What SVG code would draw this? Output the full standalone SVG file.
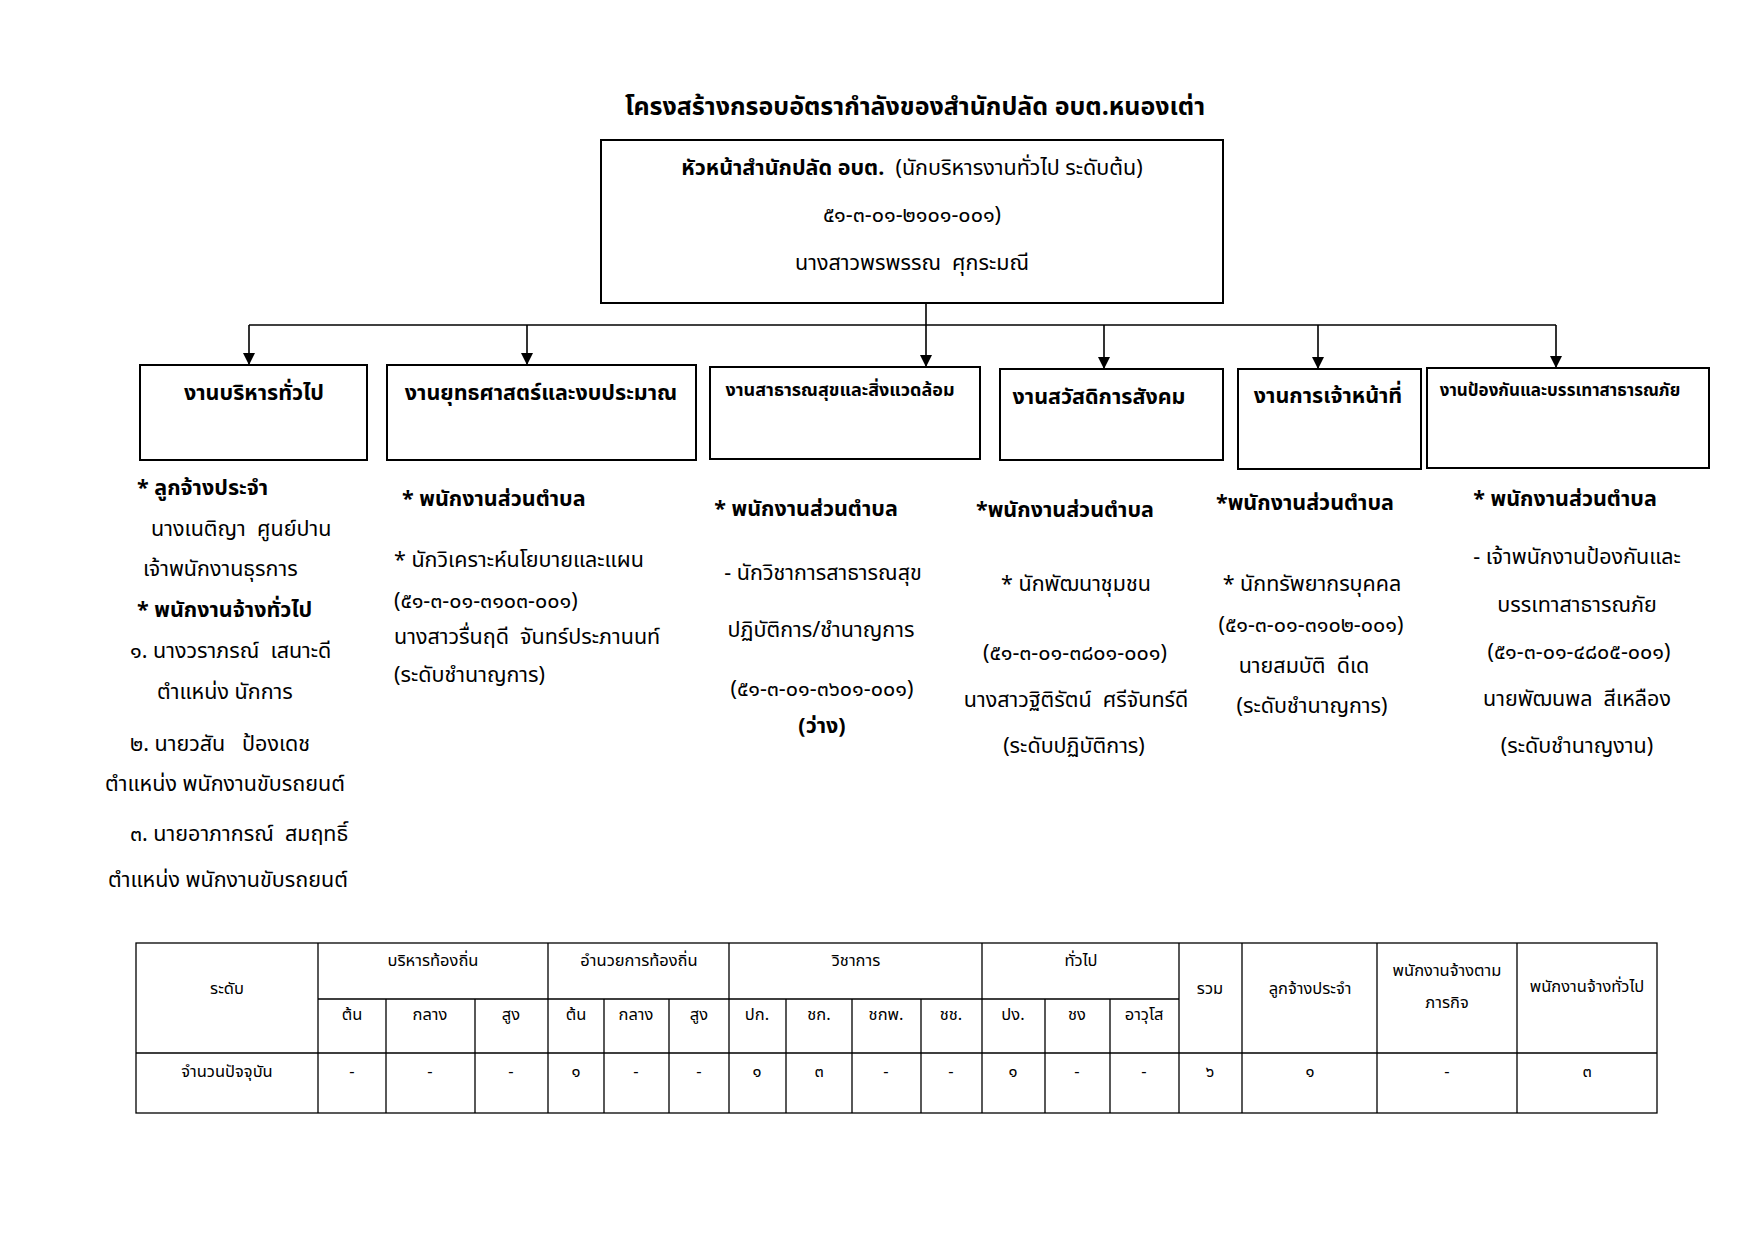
<svg xmlns="http://www.w3.org/2000/svg" width="1754" height="1240" viewBox="0 0 1754 1240">
<style>
text{font-family:"Noto Sans Thai","Noto Sans Thai UI","Loma","Garuda","Tlwg Typo","Noto Sans","DejaVu Sans",sans-serif;fill:#000;font-size:21.5px;white-space:pre}
.t{font-size:25px;font-weight:bold;text-anchor:middle}
.b{font-weight:bold}
.m{text-anchor:middle}
.box{fill:#fff;stroke:#000;stroke-width:2}
.ln{fill:none;stroke:#000;stroke-width:1.6}
.tb{font-size:16.5px;text-anchor:middle}
.grid{fill:none;stroke:#000;stroke-width:1.3}
.sm{font-size:18px}
</style>
<defs>
<marker id="ar" markerWidth="12" markerHeight="14" viewBox="0 0 12 14" refX="12" refY="7" orient="auto" markerUnits="userSpaceOnUse">
<path d="M0,1 L12,7 L0,13 z" fill="#000"/>
</marker>
</defs>
<rect width="1754" height="1240" fill="#fff"/>
<text class="t" x="915" y="115">โครงสร้างกรอบอัตรากำลังของสำนักปลัด อบต.หนองเต่า</text>

<g id="head">
<rect class="box" x="601" y="140" width="622" height="163"/>
<text class="m" x="912" y="175"><tspan class="b">หัวหน้าสำนักปลัด อบต.</tspan>  (นักบริหารงานทั่วไป ระดับต้น)</text>
<text class="m" x="912" y="222">๕๑-๓-๐๑-๒๑๐๑-๐๐๑)</text>
<text class="m" x="912" y="270">นางสาวพรพรรณ  ศุกระมณี</text>
</g>

<g id="connectors">
<line class="ln" x1="926" y1="303" x2="926" y2="367" marker-end="url(#ar)"/>
<line class="ln" x1="249" y1="325" x2="1556" y2="325"/>
<line class="ln" x1="249" y1="325" x2="249" y2="365" marker-end="url(#ar)"/>
<line class="ln" x1="527" y1="325" x2="527" y2="365" marker-end="url(#ar)"/>
<line class="ln" x1="1104" y1="325" x2="1104" y2="369" marker-end="url(#ar)"/>
<line class="ln" x1="1318" y1="325" x2="1318" y2="369" marker-end="url(#ar)"/>
<line class="ln" x1="1556" y1="325" x2="1556" y2="368" marker-end="url(#ar)"/>
</g>

<g id="n1">
<rect class="box" x="140" y="365" width="227" height="95"/>
<text class="m b" x="254" y="400">งานบริหารทั่วไป</text>
</g>
<g id="n2">
<rect class="box" x="387" y="365" width="309" height="95"/>
<text class="m b" x="541" y="400">งานยุทธศาสตร์และงบประมาณ</text>
</g>
<g id="n3">
<rect class="box" x="710" y="367" width="270" height="92"/>
<text class="m b sm" x="840" y="396">งานสาธารณสุขและสิ่งแวดล้อม</text>
</g>
<g id="n4">
<rect class="box" x="1000" y="369" width="223" height="91"/>
<text class="m b" x="1099" y="404">งานสวัสดิการสังคม</text>
</g>
<g id="n5">
<rect class="box" x="1238" y="369" width="183" height="100"/>
<text class="m b" x="1328" y="403">งานการเจ้าหน้าที่</text>
</g>
<g id="n6">
<rect class="box" x="1427" y="368" width="282" height="100"/>
<text class="m b" x="1560" y="396" style="font-size:17px">งานป้องกันและบรรเทาสาธารณภัย</text>
</g>

<g id="c1">
<text class="b" x="137" y="495">* ลูกจ้างประจำ</text>
<text x="151" y="536">นางเนติญา  ศูนย์ปาน</text>
<text x="143" y="576">เจ้าพนักงานธุรการ</text>
<text class="b" x="137" y="617">* พนักงานจ้างทั่วไป</text>
<text x="130" y="658">๑. นางวราภรณ์  เสนาะดี</text>
<text x="157" y="699">ตำแหน่ง นักการ</text>
<text x="130" y="751">๒. นายวสัน   ป้องเดช</text>
<text x="105" y="791">ตำแหน่ง พนักงานขับรถยนต์</text>
<text x="130" y="841">๓. นายอาภากรณ์  สมฤทธิ์</text>
<text x="108" y="887">ตำแหน่ง พนักงานขับรถยนต์</text>
</g>
<g id="c2">
<text class="b" x="402" y="506">* พนักงานส่วนตำบล</text>
<text x="394" y="567">* นักวิเคราะห์นโยบายและแผน</text>
<text x="394" y="608">(๕๑-๓-๐๑-๓๑๐๓-๐๐๑)</text>
<text x="394" y="644">นางสาวรื่นฤดี  จันทร์ประภานนท์</text>
<text x="394" y="682">(ระดับชำนาญการ)</text>
</g>
<g id="c3">
<text class="m b" x="806" y="516">* พนักงานส่วนตำบล</text>
<text class="m" x="823" y="580">- นักวิชาการสาธารณสุข</text>
<text class="m" x="821" y="637">ปฏิบัติการ/ชำนาญการ</text>
<text class="m" x="822" y="696">(๕๑-๓-๐๑-๓๖๐๑-๐๐๑)</text>
<text class="m b" x="822" y="733">(ว่าง)</text>
</g>
<g id="c4">
<text class="m b" x="1065" y="517">*พนักงานส่วนตำบล</text>
<text class="m" x="1076" y="591">* นักพัฒนาชุมชน</text>
<text class="m" x="1075" y="660">(๕๑-๓-๐๑-๓๘๐๑-๐๐๑)</text>
<text class="m" x="1076" y="707">นางสาวฐิติรัตน์  ศรีจันทร์ดี</text>
<text class="m" x="1074" y="753">(ระดับปฏิบัติการ)</text>
</g>
<g id="c5">
<text class="m b" x="1305" y="510">*พนักงานส่วนตำบล</text>
<text class="m" x="1312" y="591">* นักทรัพยากรบุคคล</text>
<text class="m" x="1311" y="632">(๕๑-๓-๐๑-๓๑๐๒-๐๐๑)</text>
<text class="m" x="1304" y="673">นายสมบัติ  ดีเด</text>
<text class="m" x="1312" y="713">(ระดับชำนาญการ)</text>
</g>
<g id="c6">
<text class="m b" x="1565" y="506">* พนักงานส่วนตำบล</text>
<text class="m" x="1577" y="564">- เจ้าพนักงานป้องกันและ</text>
<text class="m" x="1577" y="612">บรรเทาสาธารณภัย</text>
<text class="m" x="1579" y="659">(๕๑-๓-๐๑-๔๘๐๕-๐๐๑)</text>
<text class="m" x="1577" y="706">นายพัฒนพล  สีเหลือง</text>
<text class="m" x="1577" y="753">(ระดับชำนาญงาน)</text>
</g>

<g id="table">
<rect class="grid" x="136" y="943" width="1521" height="170"/>
<path class="grid" d="M318,999 H1179 M136,1053 H1657 M318,943 V1113 M386,999 V1113 M475,999 V1113 M548,943 V1113 M604,999 V1113 M669,999 V1113 M729,943 V1113 M786,999 V1113 M852,999 V1113 M921,999 V1113 M982,943 V1113 M1045,999 V1113 M1110,999 V1113 M1179,943 V1113 M1242,943 V1113 M1377,943 V1113 M1517,943 V1113"/>
<text class="tb" x="227" y="994">ระดับ</text>
<text class="tb" x="433" y="966">บริหารท้องถิ่น</text>
<text class="tb" x="639" y="966">อำนวยการท้องถิ่น</text>
<text class="tb" x="856" y="966">วิชาการ</text>
<text class="tb" x="1081" y="966">ทั่วไป</text>
<text class="tb" x="1210" y="994">รวม</text>
<text class="tb" x="1310" y="994">ลูกจ้างประจำ</text>
<text class="tb" x="1447" y="976">พนักงานจ้างตาม</text>
<text class="tb" x="1447" y="1008">ภารกิจ</text>
<text class="tb" x="1587" y="992">พนักงานจ้างทั่วไป</text>
<text class="tb" x="352" y="1020">ต้น</text>
<text class="tb" x="430" y="1020">กลาง</text>
<text class="tb" x="511" y="1020">สูง</text>
<text class="tb" x="576" y="1020">ต้น</text>
<text class="tb" x="636" y="1020">กลาง</text>
<text class="tb" x="699" y="1020">สูง</text>
<text class="tb" x="757" y="1020">ปก.</text>
<text class="tb" x="819" y="1020">ชก.</text>
<text class="tb" x="886" y="1020">ชกพ.</text>
<text class="tb" x="951" y="1020">ชช.</text>
<text class="tb" x="1013" y="1020">ปง.</text>
<text class="tb" x="1077" y="1020">ชง</text>
<text class="tb" x="1144" y="1020">อาวุโส</text>
<text class="tb" x="227" y="1077">จำนวนปัจจุบัน</text>
<text class="tb" x="352" y="1077">-</text>
<text class="tb" x="430" y="1077">-</text>
<text class="tb" x="511" y="1077">-</text>
<text class="tb" x="576" y="1077">๑</text>
<text class="tb" x="636" y="1077">-</text>
<text class="tb" x="699" y="1077">-</text>
<text class="tb" x="757" y="1077">๑</text>
<text class="tb" x="819" y="1077">๓</text>
<text class="tb" x="886" y="1077">-</text>
<text class="tb" x="951" y="1077">-</text>
<text class="tb" x="1013" y="1077">๑</text>
<text class="tb" x="1077" y="1077">-</text>
<text class="tb" x="1144" y="1077">-</text>
<text class="tb" x="1210" y="1077">๖</text>
<text class="tb" x="1310" y="1077">๑</text>
<text class="tb" x="1447" y="1077">-</text>
<text class="tb" x="1587" y="1077">๓</text>
</g>
</svg>
